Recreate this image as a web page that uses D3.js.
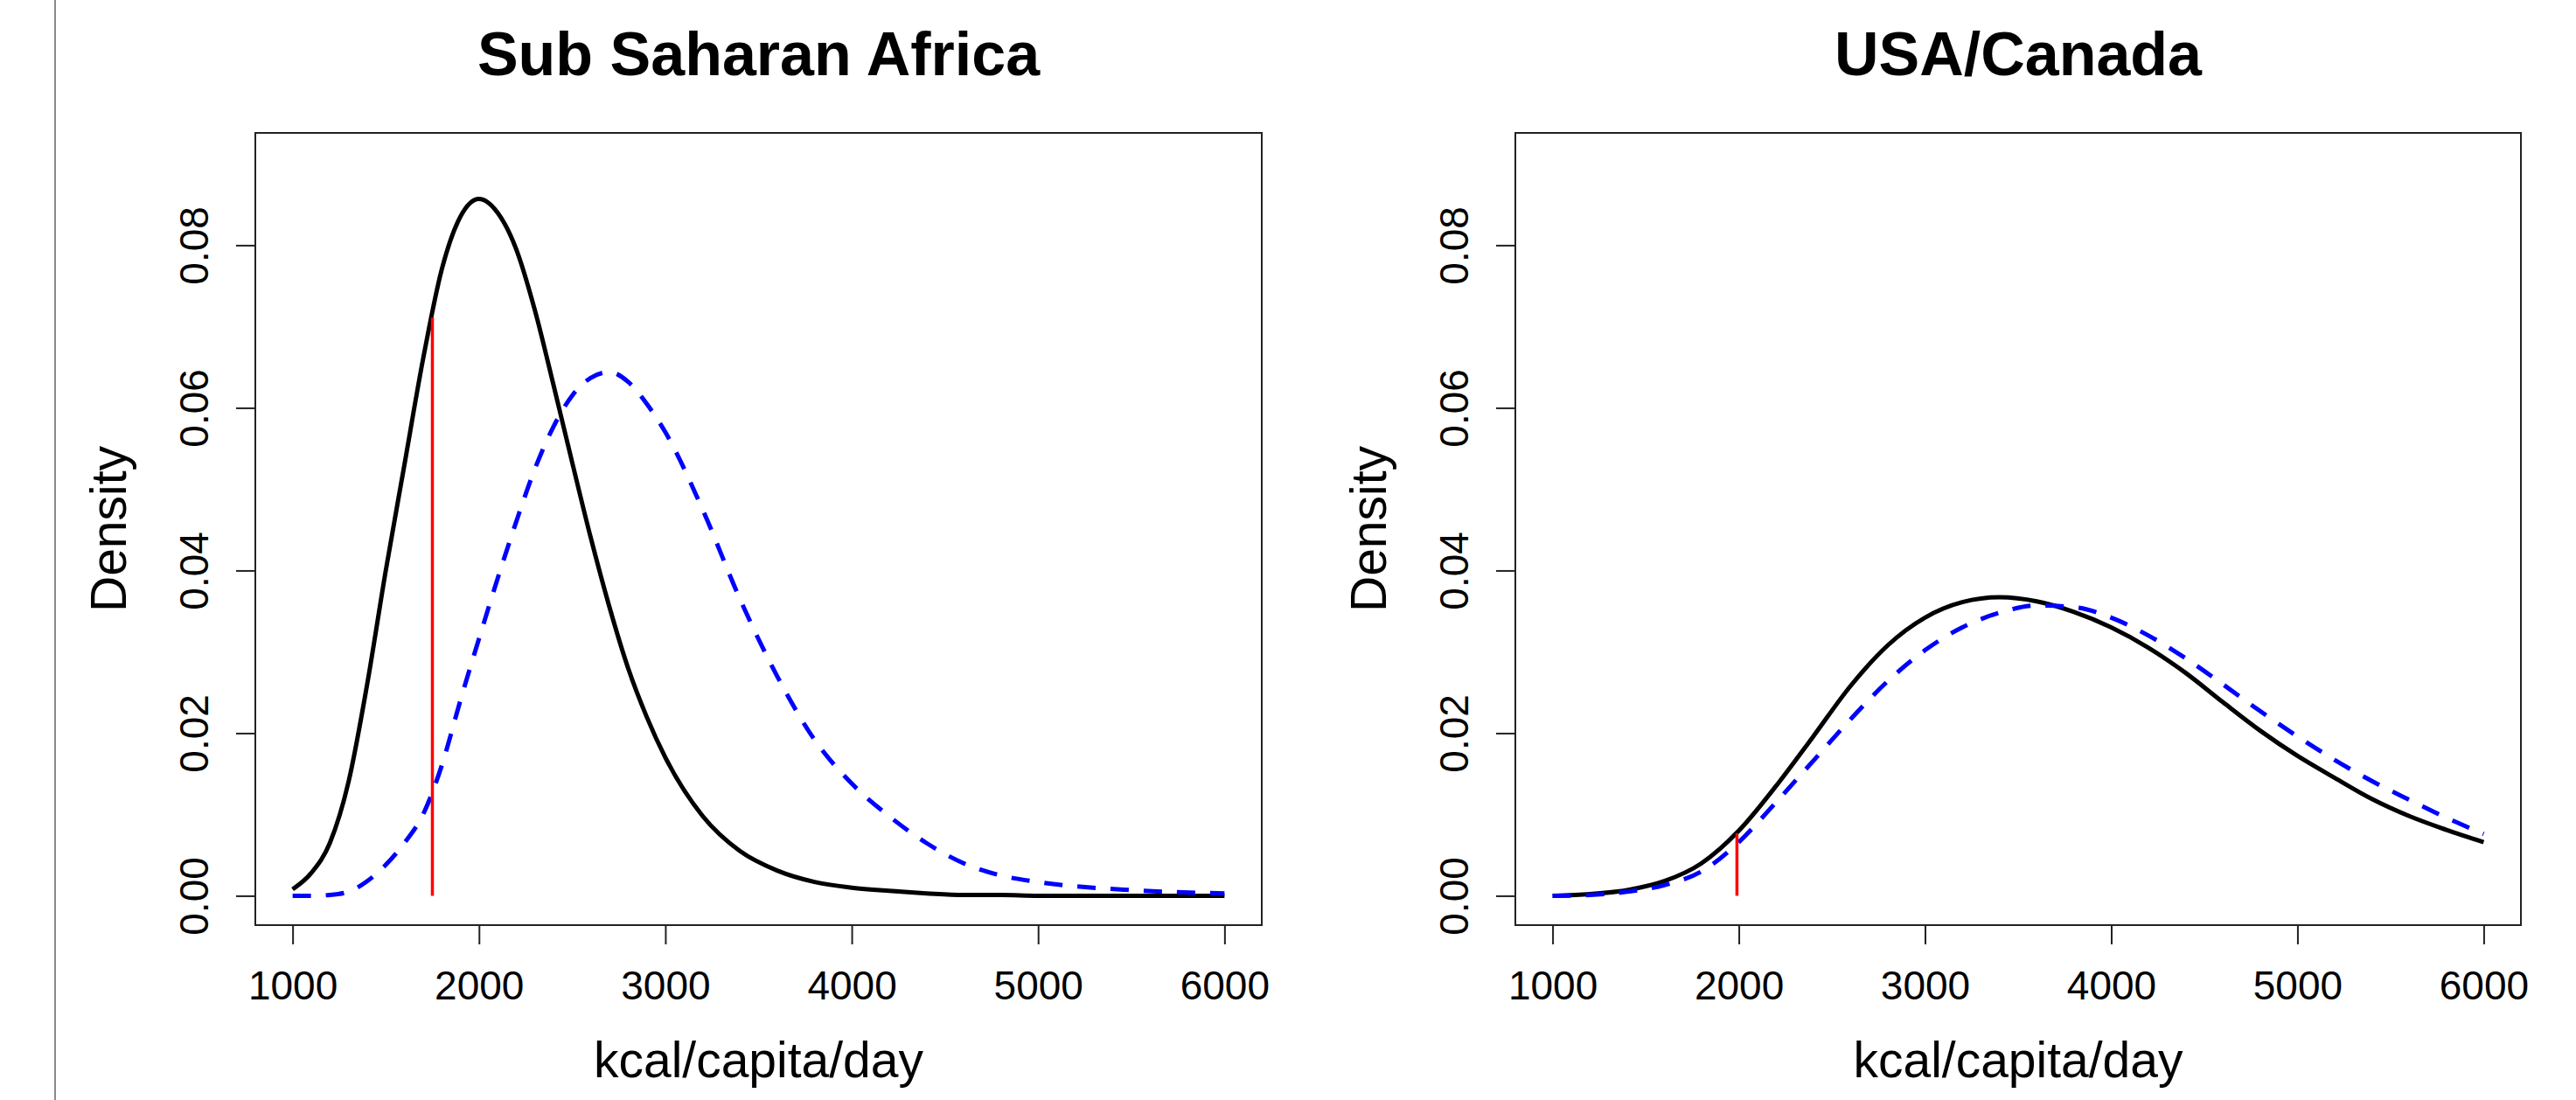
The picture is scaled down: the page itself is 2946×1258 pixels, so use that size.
<!DOCTYPE html>
<html>
<head>
<meta charset="utf-8">
<script src="https://cdn.jsdelivr.net/npm/d3@7"></script>
<style>
  body { margin: 0; background: #fff; }
  svg text { font-family: "Liberation Sans", Arial, sans-serif; fill: #000; }
</style>
</head>
<body>
<div id="chart"></div>
<script>
// --- data ---
const ssaKcal = [1000, 1100, 1200, 1300, 1400, 1500, 1600, 1700, 1800, 1900, 2000, 2100, 2200, 2300, 2400,
  2500, 2600, 2700, 2800, 2900, 3000, 3200, 3400, 3600, 3800, 4000, 4200, 4400, 4600, 4800, 5000, 5500, 6000];
// solid black curve
const ssaCurrent = [0.0008, 0.0028, 0.0065, 0.0140, 0.0260, 0.0400, 0.0530, 0.0660, 0.0770, 0.0835, 0.0857,
  0.0840, 0.0795, 0.0720, 0.0628, 0.0533, 0.0440, 0.0355, 0.0280, 0.0220, 0.0170, 0.0098, 0.0055, 0.0031,
  0.0017, 0.0010, 0.0006, 0.0003, 0.0001, 0.0001, 0.0000, 0.0000, 0.0000];
// dashed blue curve
const ssaFuture = [0.0000, 0.0000, 0.0001, 0.0005, 0.0018, 0.0038, 0.0065, 0.0100, 0.0160, 0.0240, 0.0316,
  0.0390, 0.0460, 0.0525, 0.0577, 0.0615, 0.0637, 0.0644, 0.0632, 0.0605, 0.0570, 0.0475, 0.0365, 0.0270,
  0.0192, 0.0138, 0.0098, 0.0065, 0.0040, 0.0025, 0.0017, 0.0007, 0.0003];

const usaKcal = [1000, 1200, 1400, 1600, 1800, 2000, 2200, 2400, 2600, 2800, 3000, 3200, 3400, 3600, 3800,
  4000, 4200, 4400, 4600, 4800, 5000, 5200, 5400, 5600, 5800, 6000];
const usaCurrent = [0.0000, 0.0002, 0.0007, 0.0018, 0.0040, 0.0080, 0.0135, 0.0196, 0.0258, 0.0308, 0.0342,
  0.0361, 0.0367, 0.0362, 0.0349, 0.0330, 0.0305, 0.0274, 0.0238, 0.0203, 0.0172, 0.0145, 0.0119, 0.0098,
  0.0081, 0.0066];
const usaFuture = [0.0000, 0.0001, 0.0005, 0.0013, 0.0030, 0.0066, 0.0115, 0.0166, 0.0217, 0.0264, 0.0302,
  0.0330, 0.0348, 0.0357, 0.0355, 0.0342, 0.0320, 0.0292, 0.0260, 0.0227, 0.0196, 0.0167, 0.0141, 0.0118,
  0.0096, 0.0076];

// red threshold lines: [kcal, height]
const ssaThreshold = [1750, 0.0711];
const usaThreshold = [1990, 0.0077];

const panelTitles = ["Sub Saharan Africa", "USA/Canada"];
const xTicks = [1000, 2000, 3000, 4000, 5000, 6000];
const yTicks = [0, 0.02, 0.04, 0.06, 0.08];
const xLabel = "kcal/capita/day";
const yLabel = "Density";

// --- layout ---
const W = 2946, H = 1258;
const plotTop = 152, plotBottom = 1058;

const svg = d3.select("#chart").append("svg")
  .attr("width", W)
  .attr("height", H);

svg.append("rect")
  .attr("width", W)
  .attr("height", H)
  .attr("fill", "#fff");

// thin grey border line at the left edge of the screenshot
svg.append("line")
  .attr("x1", 63).attr("x2", 63)
  .attr("y1", 0).attr("y2", H)
  .attr("stroke", "#8a8a8a")
  .attr("stroke-width", 2);

function drawPanel(left, right, title, kcal, current, future, threshold) {
  // R style: 4% padding around the data range
  const x = d3.scaleLinear().domain([800, 6200]).range([left, right]);
  const yMax = 0.0902;
  const y = d3.scaleLinear().domain([-0.04 * yMax, 1.04 * yMax]).range([plotBottom, plotTop]);
  const g = svg.append("g");

  // x axis
  const xa = g.append("g")
    .attr("transform", "translate(0," + plotBottom + ")")
    .call(d3.axisBottom(x).tickValues(xTicks).tickSize(22).tickPadding(30).tickFormat(d3.format("d")));
  xa.select(".domain").remove();
  xa.attr("font-size", null).attr("font-family", null);
  xa.selectAll("line").attr("stroke", "#222").attr("stroke-width", 2);
  xa.selectAll("text").style("font-size", "46px").attr("fill", "#000");

  // y axis, labels turned to read upwards
  const ya = g.append("g")
    .attr("transform", "translate(" + left + ",0)")
    .call(d3.axisLeft(y).tickValues(yTicks).tickSize(22).tickFormat(d3.format(".2f")));
  ya.select(".domain").remove();
  ya.attr("font-size", null).attr("font-family", null);
  ya.selectAll("line").attr("stroke", "#222").attr("stroke-width", 2);
  ya.selectAll("text")
    .attr("transform", "rotate(-90)")
    .attr("x", 0)
    .attr("y", -54)
    .attr("dy", null)
    .attr("text-anchor", "middle")
    .attr("fill", "#000")
    .style("font-size", "46px");

  // curves
  const line = d3.line()
    .x(d => x(d[0]))
    .y(d => y(d[1]))
    .curve(d3.curveMonotoneX);

  g.append("path")
    .datum(d3.zip(kcal, current))
    .attr("d", line)
    .attr("fill", "none")
    .attr("stroke", "#000")
    .attr("stroke-width", 5)
    .attr("stroke-linejoin", "round");

  g.append("path")
    .datum(d3.zip(kcal, future))
    .attr("d", line)
    .attr("fill", "none")
    .attr("stroke", "#0000ff")
    .attr("stroke-width", 5)
    .attr("stroke-dasharray", "21 17");

  g.append("line")
    .attr("x1", x(threshold[0])).attr("x2", x(threshold[0]))
    .attr("y1", y(0)).attr("y2", y(threshold[1]))
    .attr("stroke", "#ff0000")
    .attr("stroke-width", 3.5);

  // box
  g.append("rect")
    .attr("x", left).attr("y", plotTop)
    .attr("width", right - left).attr("height", plotBottom - plotTop)
    .attr("fill", "none")
    .attr("stroke", "#222")
    .attr("stroke-width", 2);

  const cx = (left + right) / 2;
  g.append("text")
    .attr("x", cx).attr("y", 86)
    .attr("text-anchor", "middle")
    .style("font-size", "70px")
    .style("font-weight", "bold")
    .text(title);

  g.append("text")
    .attr("x", cx).attr("y", 1232)
    .attr("text-anchor", "middle")
    .style("font-size", "57px")
    .text(xLabel);

  g.append("text")
    .attr("transform", "translate(" + (left - 148) + "," + (plotTop + plotBottom) / 2 + ") rotate(-90)")
    .attr("text-anchor", "middle")
    .style("font-size", "57px")
    .text(yLabel);
}

drawPanel(292, 1443, panelTitles[0], ssaKcal, ssaCurrent, ssaFuture, ssaThreshold);
drawPanel(1733, 2883, panelTitles[1], usaKcal, usaCurrent, usaFuture, usaThreshold);
</script>
</body>
</html>
